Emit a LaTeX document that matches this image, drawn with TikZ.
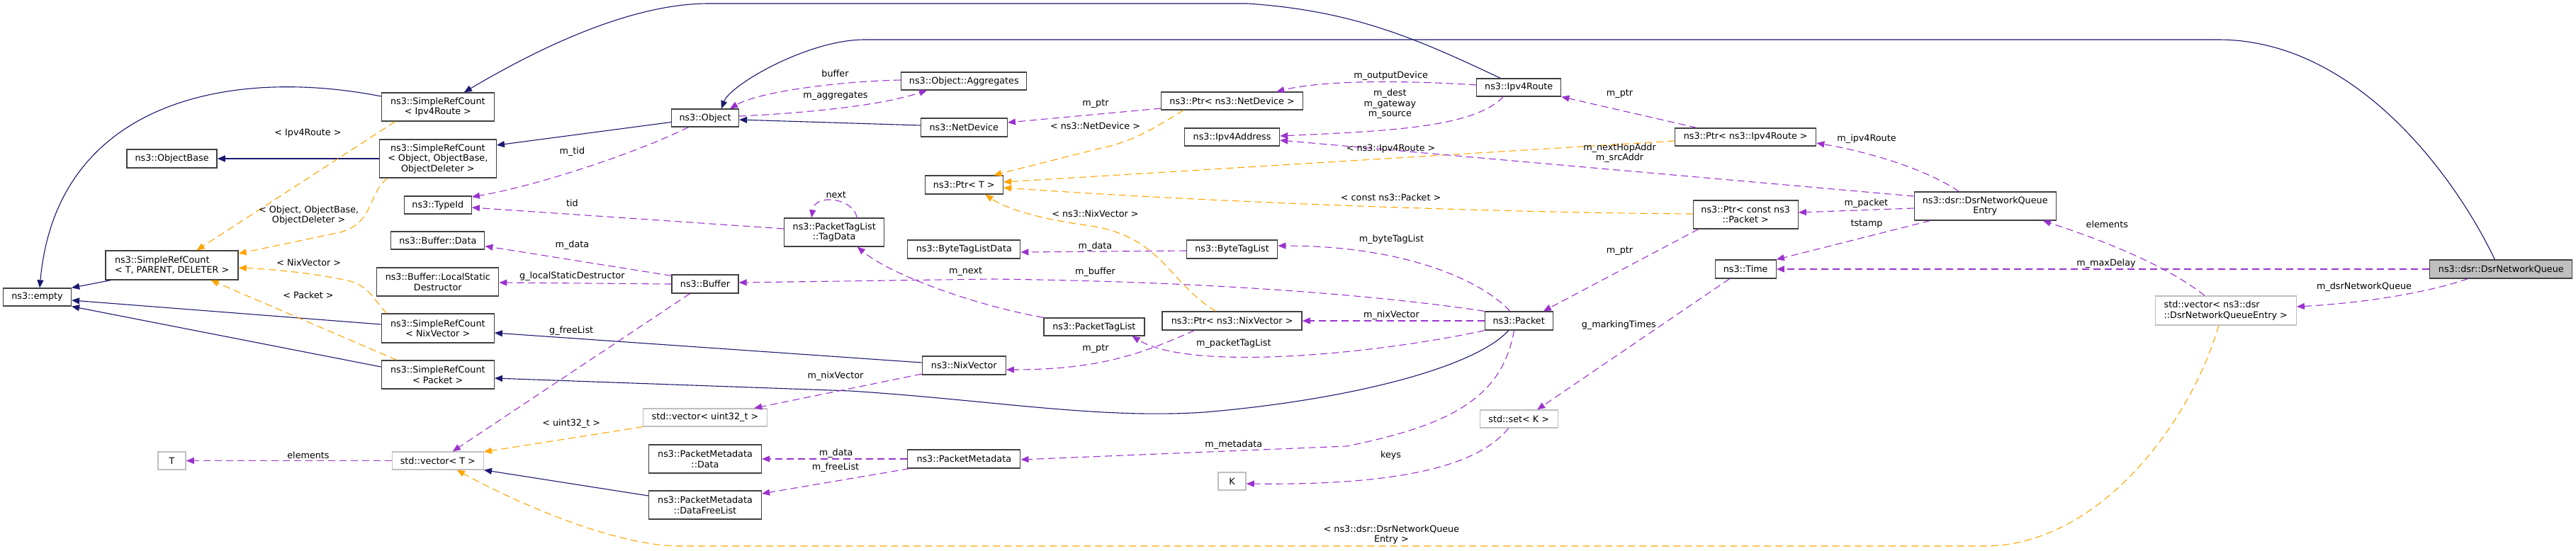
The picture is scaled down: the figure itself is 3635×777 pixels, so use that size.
\documentclass[tikz,border=0pt]{standalone}
\usepackage{fontspec}
\setmainfont{DejaVu Sans}
\usetikzlibrary{arrows.meta}
\definecolor{inhblue}{HTML}{191970}
\definecolor{usepurple}{HTML}{9A32CD}
\definecolor{tplorange}{HTML}{FFA500}
\definecolor{extgray}{HTML}{BFBFBF}
\newcommand\graphfont{\fontsize{12.76}{14.5}\selectfont}
\tikzset{
  cls/.style={draw=black!75, line width=1.3pt, fill=white, inner sep=0pt, align=center, font=\graphfont},
  ext/.style={cls, draw=extgray},
  focus/.style={cls, fill=extgray},
  sz/.style 2 args={minimum width=#1pt, minimum height=#2pt},
  lbl/.style={inner sep=0pt, align=center, font=\graphfont},
  inh/.style={draw=inhblue, line width=1.1pt, -{Triangle[length=11pt,width=9pt]}},
  use/.style={draw=usepurple, line width=1.1pt, dash pattern=on 10pt off 6pt, -{Triangle[length=11pt,width=9pt]}},
  tpl/.style={draw=tplorange, line width=1.1pt, dash pattern=on 10pt off 6pt, -{Triangle[length=11pt,width=9pt]}}
}
\begin{document}
\begin{tikzpicture}[x=1pt, y=-1pt]
			\path[fill=white, use as bounding box] (0,0) rectangle (3635,777);
			%%%%% CLASSES %%%%%
			\node[cls, sz={96}{25}] (empty) at (52.5,419.5) {ns3::empty};
			\node[cls, sz={187}{41}, align=left] (srctpd) at (242.6,374.5) {ns3::SimpleRefCount\\< T, PARENT, DELETER >};
			\node[cls, sz={127}{26}] (objbase) at (242.6,224) {ns3::ObjectBase};
			\node[ext, sz={39}{25}] (tpar) at (242.6,650.5) {T};
			\node[cls, sz={159}{40}] (srcipv) at (617.8,151) {ns3::SimpleRefCount\\< Ipv4Route >};
			\node[cls, sz={165}{54}] (srcobj) at (617.8,224) {ns3::SimpleRefCount\\< Object, ObjectBase,\\ ObjectDeleter >};
			\node[cls, sz={95}{25}] (typeid) at (617.8,289.5) {ns3::TypeId};
			\node[cls, sz={132}{25}] (bufdata) at (617.8,339.5) {ns3::Buffer::Data};
			\node[cls, sz={172}{40}] (lsd) at (617.8,398) {ns3::Buffer::LocalStatic\\Destructor};
			\node[cls, sz={159}{41}] (srcnix) at (617.8,463.5) {ns3::SimpleRefCount\\< NixVector >};
			\node[cls, sz={159}{40}] (srcpkt) at (617.8,529) {ns3::SimpleRefCount\\< Packet >};
			\node[ext, sz={129}{25}] (vect) at (617.8,650.5) {std::vector< T >};
			\node[cls, sz={95}{25}] (object) at (995,166.5) {ns3::Object};
			\node[cls, sz={94}{26}] (buffer) at (995,401) {ns3::Buffer};
			\node[ext, sz={175}{25}] (vecu32) at (995,589.5) {std::vector< uint32\_t >};
			\node[cls, sz={159}{40}] (pmdata) at (995,648) {ns3::PacketMetadata\\::Data};
			\node[cls, sz={159}{40}] (pmdfl) at (995,713) {ns3::PacketMetadata\\::DataFreeList};
			\node[cls, sz={141}{40}] (tagdata) at (1177.2,328) {ns3::PacketTagList\\::TagData};
			\node[cls, sz={177}{25}] (aggr) at (1360.3,114.5) {ns3::Object::Aggregates};
			\node[cls, sz={122}{26}] (netdev) at (1360.3,180) {ns3::NetDevice};
			\node[cls, sz={110}{26}] (ptrt) at (1360.3,261) {ns3::Ptr< T >};
			\node[cls, sz={159}{26}] (btld) at (1360.3,352) {ns3::ByteTagListData};
			\node[cls, sz={118}{26}] (nixvec) at (1360.3,516) {ns3::NixVector};
			\node[cls, sz={159}{26}] (pmeta) at (1360.3,648) {ns3::PacketMetadata};
			\node[cls, sz={142}{25}] (ptl) at (1543.9,461.5) {ns3::PacketTagList};
			\node[cls, sz={200}{25}] (ptrnd) at (1738.6,142.5) {ns3::Ptr< ns3::NetDevice >};
			\node[cls, sz={134}{25}] (ipv4addr) at (1738.6,193.5) {ns3::Ipv4Address};
			\node[cls, sz={128}{26}] (btl) at (1738.6,352) {ns3::ByteTagList};
			\node[cls, sz={197}{26}] (ptrnix) at (1738.6,453) {ns3::Ptr< ns3::NixVector >};
			\node[ext, sz={39}{25}] (kpar) at (1738.6,679.5) {K};
			\node[cls, sz={119}{25}] (ipv4route) at (2143.2,123.5) {ns3::Ipv4Route};
			\node[cls, sz={96}{26}] (packet) at (2143.2,453) {ns3::Packet};
			\node[ext, sz={110}{25}] (setk) at (2143.2,591.5) {std::set< K >};
			\node[cls, sz={199}{25}] (ptripv) at (2463.2,193.5) {ns3::Ptr< ns3::Ipv4Route >};
			\node[cls, sz={148}{40}] (ptrcp) at (2463.2,303) {ns3::Ptr< const ns3\\::Packet >};
			\node[cls, sz={86}{26}] (time) at (2463.2,380) {ns3::Time};
			\node[cls, sz={200}{40}] (dnqe) at (2801.2,291) {ns3::dsr::DsrNetworkQueue\\Entry};
			\node[ext, sz={199}{41}, align=left] (vecdnqe) at (3140.7,438.5) {std::vector< ns3::dsr\\::DsrNetworkQueueEntry >};
			\node[focus, sz={201}{26}] (dnq) at (3529.3,380) {ns3::dsr::DsrNetworkQueue};
			
			%%%%% INHERITANCE %%%%%
			\draw[inh] ([yshift=15pt]srcipv.west) .. controls (330,95) and (80,140) .. ([xshift=3.5pt]empty.north);
			\draw[inh] ([xshift=-26pt]ipv4route.north) .. controls (2000,55) and (1910,15) .. (1760,5) -- (1000,5) .. controls (880,5) and (740,80) .. ([xshift=37pt]srcipv.north);
			\draw[inh] ([xshift=-9pt]dnq.north) .. controls (3470,260) and (3330,56) .. (3130,56) -- (1220,56) .. controls (1140,56) and (1030,120) .. ([xshift=23pt]object.north);
			\draw[inh] ([yshift=-6pt]object.west) -- ([yshift=19pt]srcobj.east);
			\draw[inh] (srcobj.west) -- (objbase.east);
			\draw[inh] ([xshift=8pt]srctpd.south west) -- (empty.north east);
			\draw[inh] ([yshift=5.5pt]srcnix.west) -- ([yshift=-4.5pt]empty.east);
			\draw[inh] ([yshift=11pt]srcpkt.west) -- (empty.south east);
			\draw[inh] ([yshift=4pt]nixvec.west) -- ([yshift=-6.5pt]srcnix.east);
			\draw[inh] ([xshift=-14.5pt]packet.south) .. controls (2080,520) and (1900,565) .. (1700,582) .. controls (1550,592) and (1400,565) .. (1200,552) -- ([yshift=-5pt]srcpkt.east);
			\draw[inh] ([yshift=3pt]netdev.west) -- ([yshift=-2.5pt]object.east);
			\draw[inh] ([yshift=13pt]pmdfl.west) -- (vect.south east);
			
			%%%%% TEMPLATES %%%%%
			\draw[tpl] ([xshift=20pt]srcipv.south west) -- ([xshift=35pt]srctpd.north);
			\draw[tpl] ([xshift=12pt]srcobj.south west) .. controls (518,275) and (528,315) .. (480,328) -- ([yshift=16.5pt]srctpd.east);
			\draw[tpl] ([xshift=8pt]srcnix.north west) .. controls (525,420) and (520,403) .. (490,396) .. controls (440,385) and (380,380) .. ([yshift=-3.5pt]srctpd.east);
			\draw[tpl] ([xshift=22pt]srcpkt.north west) -- ([xshift=55pt]srctpd.south);
			\draw[tpl] (vecu32.south west) -- ([yshift=12.5pt]vect.east);
			\draw[tpl] ([xshift=-10pt]vecdnqe.south) .. controls (3090,600) and (2960,771) .. (2800,771) -- (960,771) .. controls (860,771) and (710,700) .. ([xshift=27pt]vect.south);
			\draw[tpl] ([xshift=32pt]ptrnd.south west) .. controls (1630,180) and (1600,200) .. (1550,210) -- ([xshift=42pt]ptrt.north);
			\draw[tpl] ([yshift=-5.5pt]ptripv.west) -- ([yshift=4pt]ptrt.east);
			\draw[tpl] ([yshift=1pt]ptrcp.west) .. controls (2100,300) and (1700,285) .. ([yshift=-4pt]ptrt.east);
			\draw[tpl] ([xshift=-23pt]ptrnix.north) .. controls (1650,400) and (1640,335) .. (1540,319) .. controls (1470,310) and (1420,295) .. ([xshift=30pt]ptrt.south);
			
			%%%%% MEMBERS %%%%%
			\draw[use] ([xshift=-23.5pt]object.south) .. controls (900,215) and (760,262) .. ([yshift=11.5pt]typeid.east);
			\draw[use] ([yshift=5pt]tagdata.west) -- ([yshift=-3.5pt]typeid.east);
			\draw[use] ([yshift=-2pt]buffer.north west) -- ([yshift=-8pt]bufdata.east);
			\draw[use] (buffer.west) -- ([yshift=-1pt]lsd.east);
			\draw[use] ([xshift=-21.5pt]buffer.south) -- ([xshift=21pt]vect.north);
			\draw[use] (vect.west) -- (tpar.east);
			\draw[use] ([yshift=-12pt]nixvec.west) -- ([xshift=-19pt]vecu32.north east);
			\draw[use] (pmeta.west) -- (pmdata.east);
			\draw[use] ([xshift=3pt]pmeta.south west) -- ([yshift=16pt]pmdfl.east);
			\draw[use] ([yshift=1.5pt]aggr.west) .. controls (1180,115) and (1070,130) .. ([xshift=35pt]object.north);
			\draw[use] ([yshift=2.5pt]object.east) .. controls (1130,160) and (1240,150) .. ([xshift=37pt]aggr.south west);
			\draw[use] ([yshift=-10.5pt]ptrnd.west) -- ([yshift=7pt]netdev.east);
			\draw[use] ([xshift=32pt]tagdata.north) .. controls (1205,280) and (1150,272) .. ([xshift=-32pt]tagdata.north);
			\draw[use] (ptl.north west) .. controls (1380,432) and (1260,390) .. ([xshift=32.5pt]tagdata.south);
			\draw[use] (packet.north west) .. controls (1980,422) and (1750,398) .. (1400,394) -- ([yshift=2pt]buffer.east);
			\draw[use] ([yshift=-2pt]btl.west) -- ([yshift=-4pt]btld.east);
			\draw[use] ([xshift=-12.5pt]packet.north) .. controls (2090,395) and (1980,347) .. ([yshift=5pt]btl.east);
			\draw[use] (packet.west) -- (ptrnix.east);
			\draw[use] (packet.south west) .. controls (1940,500) and (1680,525) .. ([xshift=-18pt]ptl.south east);
			\draw[use] ([xshift=46pt]ptrnix.south west) .. controls (1620,495) and (1560,522) .. ([yshift=-6pt]nixvec.east);
			\draw[use] ([xshift=-6.7pt]packet.south) .. controls (2120,560) and (2050,600) .. (1900,630) -- ([yshift=-1pt]pmeta.east);
			\draw[use] ([xshift=8pt]ptrcp.south west) -- ([xshift=-14pt]packet.north east);
			\draw[use] ([xshift=-22pt]ipv4route.south) .. controls (2080,180) and (1960,185) .. ([yshift=1.5pt]ipv4addr.east);
			\draw[use] ([yshift=3.5pt]ipv4route.west) .. controls (1960,112) and (1860,115) .. ([xshift=-38pt]ptrnd.north east);
			\draw[use] ([xshift=31pt]ptripv.north west) -- (ipv4route.south east);
			\draw[use] ([yshift=14pt]dnqe.west) -- ([yshift=-4.5pt]ipv4addr.east);
			\draw[use] ([xshift=-37pt]dnqe.north) .. controls (2720,240) and (2640,215) .. ([yshift=-8.5pt]ptripv.east);
			\draw[use] ([yshift=-3pt]dnqe.west) -- ([yshift=3pt]ptrcp.east);
			\draw[use] ([xshift=23pt]dnqe.south west) -- (time.north east);
			\draw[use, line width=1.6pt] (dnq.west) -- (time.east);
			\draw[use] ([xshift=-29.7pt]vecdnqe.north) .. controls (3070,385) and (3000,350) .. ([xshift=-19pt]dnqe.south east);
			\draw[use] ([xshift=-47pt]dnq.south) .. controls (3420,415) and (3330,428) .. ([yshift=5.5pt]vecdnqe.east);
			\draw[use] ([xshift=21pt]time.south west) -- ([xshift=26pt]setk.north);
			\draw[use] ([xshift=-14.5pt]setk.south) .. controls (2080,665) and (1950,685) .. ([yshift=-3.5pt]kpar.east);
			
			%%%%% LABELS %%%%%
			\node[lbl] (l-ipv) at (434.5,188) {< Ipv4Route >};
			\node[lbl] (l-objt) at (435.7,304) {< Object, ObjectBase,\\ ObjectDeleter >};
			\node[lbl] (l-nixt) at (435.7,371) {< NixVector >};
			\node[lbl] (l-pktt) at (435,417) {< Packet >};
			\node[lbl] (l-elemt) at (435,643) {elements};
			\node[lbl] (l-mtid) at (807.4,214) {m\_tid};
			\node[lbl] (l-tid) at (807.4,287) {tid};
			\node[lbl] (l-bufdata) at (807.4,346) {m\_data};
			\node[lbl] (l-lsd) at (807.4,390) {g\_localStaticDestructor};
			\node[lbl] (l-freelist) at (806.2,467) {g\_freeList};
			\node[lbl] (l-u32) at (806.2,598) {< uint32\_t >};
			\node[lbl] (l-buffer) at (1178.5,104) {buffer};
			\node[lbl] (l-aggr) at (1179,136) {m\_aggregates};
			\node[lbl] (l-next) at (1179.7,275) {next};
			\node[lbl] (l-nixu32) at (1179,531) {m\_nixVector};
			\node[lbl] (l-pmdata) at (1179.7,640) {m\_data};
			\node[lbl] (l-pmfree) at (1179,660) {m\_freeList};
			\node[lbl] (l-ptrnd) at (1546,147) {m\_ptr};
			\node[lbl] (l-ndt) at (1545.5,178) {< ns3::NetDevice >};
			\node[lbl] (l-nixtp) at (1545.5,302) {< ns3::NixVector >};
			\node[lbl] (l-btld) at (1545.5,348) {m\_data};
			\node[lbl] (l-mnext) at (1362.6,384) {m\_next};
			\node[lbl] (l-mbuffer) at (1545.5,384) {m\_buffer};
			\node[lbl] (l-ptrnix) at (1546,493) {m\_ptr};
			\node[lbl] (l-ptl) at (1740.8,485) {m\_packetTagList};
			\node[lbl] (l-meta) at (1740.8,628) {m\_metadata};
			\node[lbl] (l-outdev) at (1962.6,107) {m\_outputDevice};
			\node[lbl] (l-addr) at (1961.4,147) {m\_dest\\m\_gateway\\m\_source};
			\node[lbl] (l-ptripv) at (2285.5,133) {m\_ptr};
			\node[lbl] (l-ipvt) at (1962.6,210) {< ns3::Ipv4Route >};
			\node[lbl] (l-hop) at (2285.5,216) {m\_nextHopAddr\\m\_srcAddr};
			\node[lbl] (l-cpt) at (1962.6,279) {< const ns3::Packet >};
			\node[lbl] (l-btl) at (1963.4,338) {m\_byteTagList};
			\node[lbl] (l-ptrcp) at (2285.5,355) {m\_ptr};
			\node[lbl] (l-pktnix) at (1963.4,445) {m\_nixVector};
			\node[lbl] (l-mark) at (2284.3,459) {g\_markingTimes};
			\node[lbl] (l-keys) at (1962.6,643) {keys};
			\node[lbl] (l-dnqet) at (1963.4,755) {< ns3::dsr::DsrNetworkQueue\\Entry >};
			\node[lbl] (l-ipv4r) at (2634,196) {m\_ipv4Route};
			\node[lbl] (l-mpkt) at (2633.3,287) {m\_packet};
			\node[lbl] (l-tstamp) at (2634,316) {tstamp};
			\node[lbl] (l-elemd) at (2973.3,317) {elements};
			\node[lbl] (l-delay) at (2972,372) {m\_maxDelay};
			\node[lbl] (l-dnq) at (3336,405) {m\_dsrNetworkQueue};
\end{tikzpicture}
\end{document}
